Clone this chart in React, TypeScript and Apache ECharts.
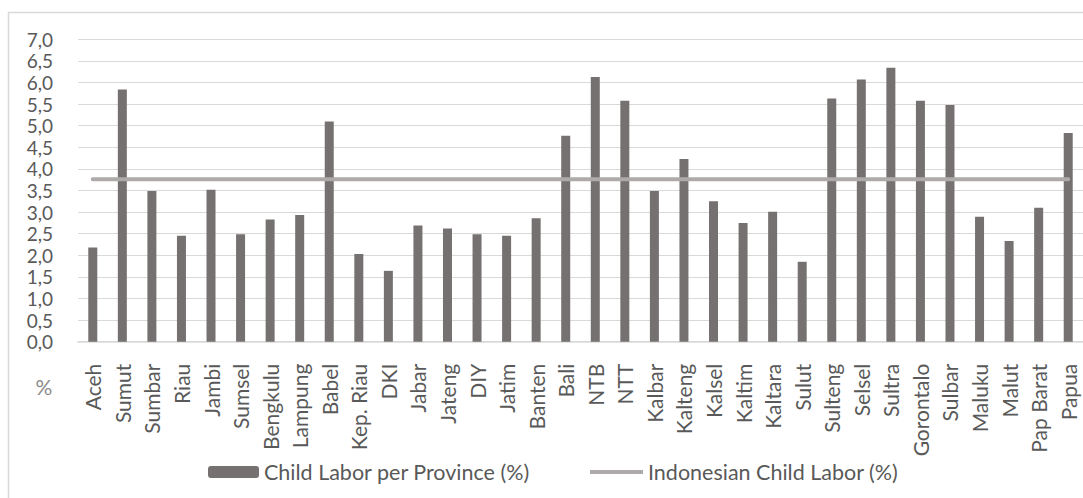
import React, { useEffect, useRef } from "react";
import * as echarts from "echarts";

const categories = [
  "Aceh", "Sumut", "Sumbar", "Riau", "Jambi", "Sumsel", "Bengkulu", "Lampung", "Babel",
  "Kep. Riau", "DKI", "Jabar", "Jateng", "DIY", "Jatim", "Banten", "Bali", "NTB", "NTT",
  "Kalbar", "Kalteng", "Kalsel", "Kaltim", "Kaltara", "Sulut", "Sulteng", "Selsel", "Sultra",
  "Gorontalo", "Sulbar", "Maluku", "Malut", "Pap Barat", "Papua",
];

const provinceValues = [
  2.18, 5.84, 3.49, 2.45, 3.52, 2.49, 2.83, 2.93, 5.10,
  2.03, 1.64, 2.69, 2.62, 2.49, 2.45, 2.86, 4.77, 6.13, 5.58,
  3.49, 4.23, 3.25, 2.75, 3.01, 1.85, 5.63, 6.07, 6.34,
  5.58, 5.48, 2.89, 2.33, 3.10, 4.83,
];

const nationalRate = 3.76;
const nationalValues = categories.map(() => nationalRate);

const barName = "Child Labor per Province (%)";
const lineName = "Indonesian Child Labor (%)";

const FONT = "Lato, 'Noto Sans', sans-serif";
const TEXT = "#595959";

export default function App() {
  const ref = useRef<HTMLDivElement>(null);

  useEffect(() => {
    if (!ref.current) return;
    const chart = echarts.init(ref.current, undefined, { renderer: "svg" });
    chart.setOption({
      animation: false,
      backgroundColor: "#ffffff",
      grid: { left: 78, right: -8, top: 39.3, bottom: 156.3, containLabel: false },
      xAxis: {
        type: "category",
        data: categories,
        axisLine: { show: true, lineStyle: { color: "#d9d9d9", width: 1.5 } },
        axisTick: { show: false },
        axisLabel: {
          rotate: 90,
          interval: 0,
          margin: 22,
          color: TEXT,
          fontFamily: FONT,
          fontSize: 21,
        },
      },
      yAxis: {
        type: "value",
        min: 0,
        max: 7,
        interval: 0.5,
        axisLine: { show: false },
        axisTick: { show: false },
        splitLine: { lineStyle: { color: "#d9d9d9", width: 1.2 } },
        axisLabel: {
          margin: 25,
          color: TEXT,
          fontFamily: FONT,
          fontSize: 19,
          lineHeight: 18,
          formatter: (v: number) => v.toFixed(1).replace(".", ","),
        },
      },
      legend: [
        {
          data: [barName],
          left: 203,
          top: 456,
          itemWidth: 51,
          itemHeight: 12,
          itemGap: 0,
          textStyle: { color: TEXT, fontFamily: FONT, fontSize: 21.5 },
        },
        {
          data: [{ name: lineName, icon: "rect" }],
          left: 585,
          top: 456,
          itemWidth: 53,
          itemHeight: 4,
          itemGap: 0,
          textStyle: { color: TEXT, fontFamily: FONT, fontSize: 21.5 },
        },
      ],
      series: [
        {
          name: barName,
          type: "bar",
          data: provinceValues,
          barWidth: 9,
          itemStyle: { color: "#767171" },
          z: 2,
        },
        {
          name: lineName,
          type: "line",
          data: nationalValues,
          symbol: "none",
          lineStyle: { color: "#AEAAAA", width: 4, cap: "round" },
          itemStyle: { color: "#AEAAAA" },
          z: 3,
        },
      ],
      graphic: [
        {
          type: "rect",
          shape: { x: 8.5, y: 12.5, width: 1200, height: 600 },
          style: { fill: "none", stroke: "#d9d9d9", lineWidth: 1.5 },
          silent: true,
        },
        {
          type: "text",
          x: 44,
          y: 386,
          style: {
            text: "%",
            fill: "#8c8c8c",
            font: `21px ${FONT}`,
            textAlign: "center",
            textVerticalAlign: "middle",
          },
        },
      ],
    });
    return () => chart.dispose();
  }, []);

  return (
    <div
      ref={ref}
      style={{ position: "fixed", left: 0, top: 0, width: 1083, height: 498, background: "#fff" }}
    />
  );
}
